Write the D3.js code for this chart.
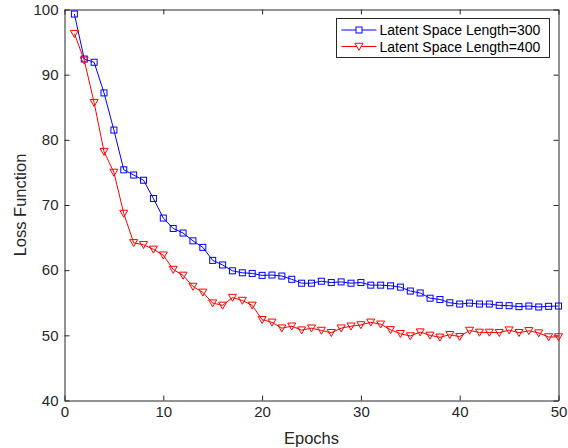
<!DOCTYPE html>
<html>
<head>
<meta charset="utf-8">
<script src="https://cdn.jsdelivr.net/npm/d3@7"></script>
<style>
  body { margin: 0; background: #fff; }
  svg { display: block; font-family: "Liberation Sans", Arial, Helvetica, sans-serif; }
  .axis text { fill: #262626; font-size: 15px; }
  .axis path, .axis line { stroke: #262626; stroke-width: 1; }
</style>
</head>
<body>
<div id="chart"></div>
<script>
// Data
let epochs = d3.range(1, 51);
let loss300 = [99.3, 92.4, 91.9, 87.2, 81.5, 75.4, 74.6, 73.8, 71.0, 68.0,
  66.4, 65.7, 64.5, 63.5, 61.5, 60.8, 59.9, 59.6, 59.5, 59.2,
  59.25, 59.1, 58.6, 58.0, 58.0, 58.3, 58.1, 58.2, 58.0, 58.1,
  57.7, 57.7, 57.6, 57.4, 56.8, 56.5, 55.7, 55.5, 55.0, 54.8,
  54.95, 54.8, 54.8, 54.6, 54.55, 54.4, 54.5, 54.35, 54.45, 54.5];
let loss400 = [96.3, 92.2, 85.7, 78.2, 75.0, 68.7, 64.2, 63.9, 63.2, 62.3,
  60.1, 59.2, 57.5, 56.6, 54.95, 54.6, 55.8, 55.35, 54.6, 52.4,
  52.0, 51.1, 51.4, 50.8, 51.1, 50.75, 50.4, 51.1, 51.4, 51.6,
  52.0, 51.7, 50.85, 50.25, 49.9, 50.5, 50.0, 49.7, 50.1, 49.8,
  50.75, 50.45, 50.45, 50.4, 50.8, 50.4, 50.7, 50.35, 49.75, 49.75];
let seriesNames = ["Latent Space Length=300", "Latent Space Length=400"];
let xTicks = [0, 10, 20, 30, 40, 50];
let yTicks = [40, 50, 60, 70, 80, 90, 100];

let width = 568;
let height = 448;
let margin = { top: 9.5, right: 9.5, bottom: 47.5, left: 64.5 };

let svg = d3.select("#chart")
  .append("svg")
  .attr("width", width)
  .attr("height", height);

let xScale = d3.scaleLinear().domain([0, 50]).range([margin.left, width - margin.right]);
let yScale = d3.scaleLinear().domain([40, 100]).range([height - margin.bottom, margin.top]);

// axes (MATLAB style box with inward ticks)
svg.append("g")
  .attr("class", "axis")
  .attr("transform", "translate(0," + (height - margin.bottom) + ")")
  .call(d3.axisBottom(xScale).tickValues(xTicks).tickSizeInner(-5).tickSizeOuter(0).tickPadding(6));

svg.append("g")
  .attr("class", "axis")
  .attr("transform", "translate(0," + margin.top + ")")
  .call(d3.axisTop(xScale).tickValues(xTicks).tickSizeInner(-5).tickSizeOuter(0).tickFormat(""));

svg.append("g")
  .attr("class", "axis")
  .attr("transform", "translate(" + margin.left + ",0)")
  .call(d3.axisLeft(yScale).tickValues(yTicks).tickSizeInner(-5).tickSizeOuter(0).tickPadding(6));

svg.append("g")
  .attr("class", "axis")
  .attr("transform", "translate(" + (width - margin.right) + ",0)")
  .call(d3.axisRight(yScale).tickValues(yTicks).tickSizeInner(-5).tickSizeOuter(0).tickFormat(""));

// axis labels
svg.append("text")
  .attr("x", (xScale(0) + xScale(50)) / 2)
  .attr("y", 444)
  .attr("text-anchor", "middle")
  .attr("font-size", 16.5)
  .attr("fill", "#262626")
  .text("Epochs");

svg.append("text")
  .attr("transform", "translate(26," + ((yScale(40) + yScale(100)) / 2) + ")rotate(-90)")
  .attr("text-anchor", "middle")
  .attr("font-size", 16.5)
  .attr("fill", "#262626")
  .text("Loss Function");

let line = d3.line()
  .x(function(d, i) { return xScale(epochs[i]); })
  .y(function(d) { return yScale(d); });

let triangle = "M-4,-3.2L4,-3.2L0,3.8Z";

// series 300: blue squares
svg.append("path")
  .datum(loss300)
  .attr("d", line)
  .attr("fill", "none")
  .attr("stroke", "#0000ff")
  .attr("stroke-width", 1);

svg.selectAll(".sq")
  .data(loss300)
  .enter()
  .append("rect")
  .attr("class", "sq")
  .attr("x", function(d, i) { return xScale(epochs[i]) - 3; })
  .attr("y", function(d) { return yScale(d) - 3; })
  .attr("width", 6)
  .attr("height", 6)
  .attr("fill", "none")
  .attr("stroke", "#0000ff")
  .attr("stroke-width", 1);

// series 400: red down-triangles
svg.append("path")
  .datum(loss400)
  .attr("d", line)
  .attr("fill", "none")
  .attr("stroke", "#ff0000")
  .attr("stroke-width", 1);

svg.selectAll(".tri")
  .data(loss400)
  .enter()
  .append("path")
  .attr("class", "tri")
  .attr("transform", function(d, i) {
    return "translate(" + xScale(epochs[i]) + "," + yScale(d) + ")";
  })
  .attr("d", triangle)
  .attr("fill", "none")
  .attr("stroke", "#ff0000")
  .attr("stroke-width", 1);

// legend
let legend = svg.append("g").attr("transform", "translate(336.5,18.5)");
legend.append("rect")
  .attr("width", 213)
  .attr("height", 39)
  .attr("fill", "#fff")
  .attr("stroke", "#262626")
  .attr("stroke-width", 1);

let colors = ["#0000ff", "#ff0000"];
seriesNames.forEach(function(name, i) {
  let yRow = 11.5 + i * 16.5;
  legend.append("line")
    .attr("x1", 5).attr("x2", 40)
    .attr("y1", yRow).attr("y2", yRow)
    .attr("stroke", colors[i])
    .attr("stroke-width", 1);
  if (i === 0) {
    legend.append("rect")
      .attr("x", 19.5).attr("y", yRow - 3)
      .attr("width", 6).attr("height", 6)
      .attr("fill", "#fff")
      .attr("stroke", colors[i]);
  } else {
    legend.append("path")
      .attr("transform", "translate(22.5," + yRow + ")")
      .attr("d", triangle)
      .attr("fill", "#fff")
      .attr("stroke", colors[i]);
  }
  legend.append("text")
    .attr("x", 43)
    .attr("y", yRow + 5)
    .attr("font-size", 14)
    .attr("fill", "#000")
    .text(name);
});
</script>
</body>
</html>
